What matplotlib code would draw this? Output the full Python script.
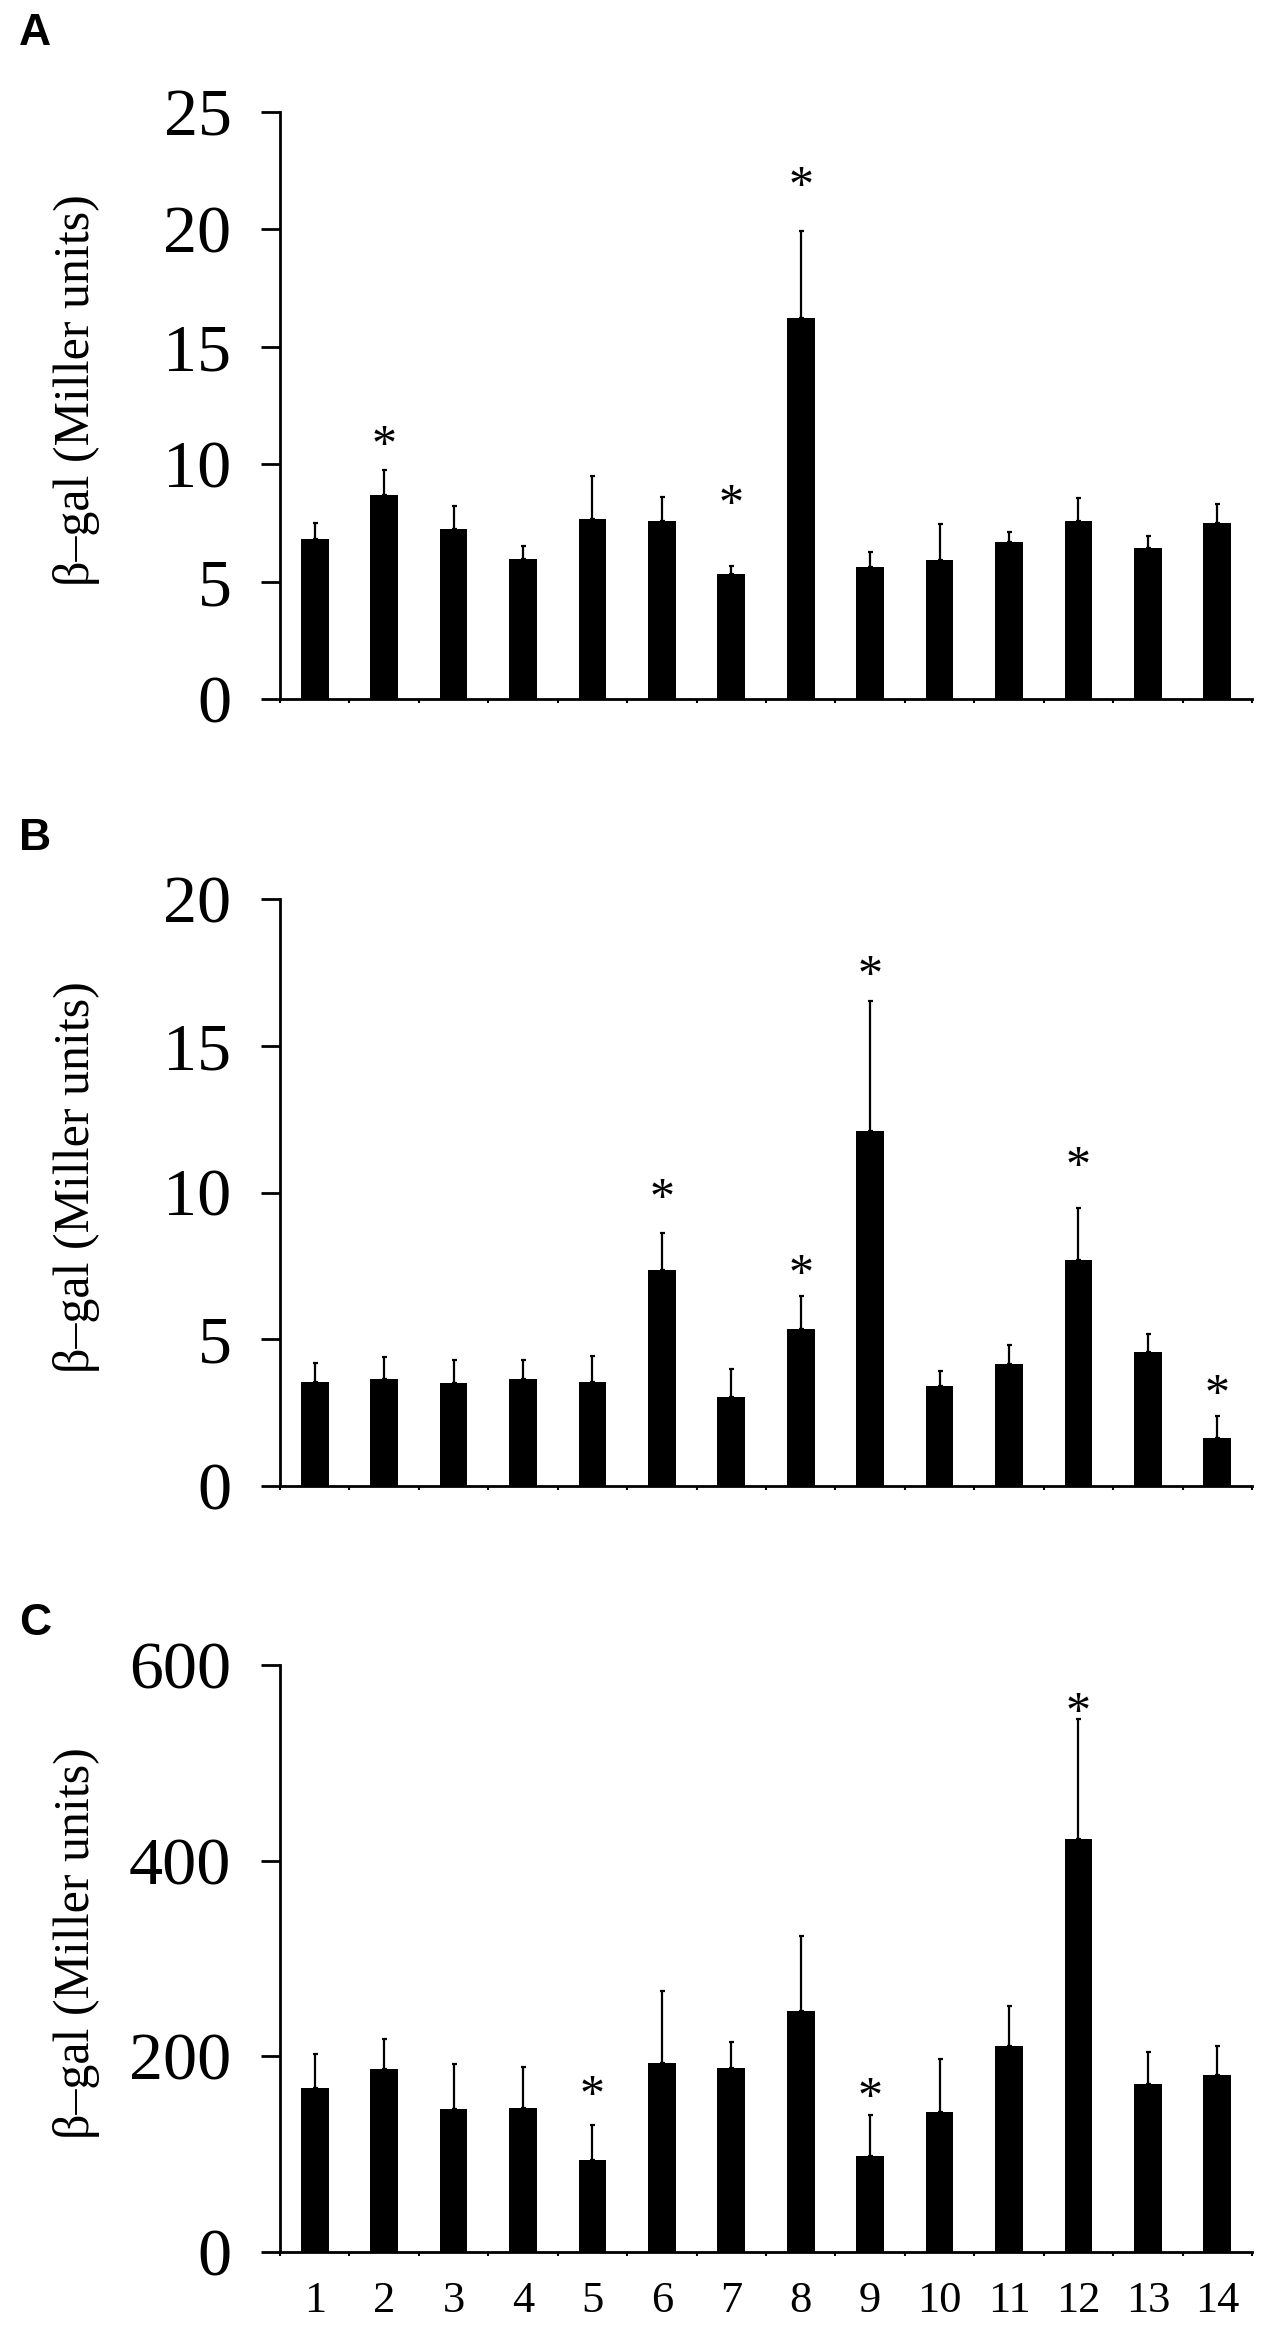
import numpy as np
import matplotlib
matplotlib.use("Agg")
from matplotlib import pyplot as plt
from matplotlib.transforms import offset_copy

plt.rcParams['font.family'] = ['Liberation Serif', 'DejaVu Serif']

strains = [str(i) for i in range(1, 15)]

# panel A
mean_a = [6.80, 8.69, 7.23, 5.96, 7.68, 7.58, 5.31, 16.21, 5.61, 5.92, 6.68, 7.56, 6.43, 7.48]
err_a = [0.68, 1.08, 0.97, 0.54, 1.83, 1.03, 0.35, 3.71, 0.64, 1.54, 0.45, 1.01, 0.50, 0.82]
star_pos_a = [2, 7, 8]
star_y_a = [11.23, 8.69, 22.27]

# panel B
mean_b = [3.56, 3.65, 3.50, 3.65, 3.53, 7.36, 3.04, 5.36, 12.11, 3.42, 4.16, 7.70, 4.58, 1.62]
err_b = [0.64, 0.74, 0.78, 0.63, 0.91, 1.27, 0.93, 1.12, 4.41, 0.50, 0.66, 1.76, 0.61, 0.78]
star_pos_b = [6, 8, 9, 12, 14]
star_y_b = [10.12, 7.53, 17.73, 11.22, 3.45]

# panel C
mean_c = [168, 187, 146, 147, 94, 193, 188, 246, 98, 143, 211, 422, 172, 181]
err_c = [34, 31, 46, 42, 36, 74, 27, 77, 42, 54, 40, 123, 32, 30]
star_pos_c = [5, 9, 12]
star_y_c = [170, 168, 562]

panels = [
    ("A", mean_a, err_a, star_pos_a, star_y_a, 25, 5),
    ("B", mean_b, err_b, star_pos_b, star_y_b, 20, 5),
    ("C", mean_c, err_c, star_pos_c, star_y_c, 600, 200),
]

W, H = 1267, 2332
fig = plt.figure(figsize=(W / 100, H / 100), dpi=100)

left = 280 / W
width = (1252 - 280) / W
bottoms = [699, 1486, 2252]   # pixel row of y=0 line
letter_base = [45, 850, 1635]
axh = 587 / H

star_fs = 36
x = np.arange(len(strains))

for k, (letter, mean, err, spos, sy, ymax, ystep) in enumerate(panels):
    ax = fig.add_axes([left, 1 - bottoms[k] / H, width, axh])
    ax.bar(x, mean, width=0.40, color="black", zorder=2)
    ax.errorbar(x, mean, yerr=[np.zeros(len(err)), err], fmt="none",
                ecolor="black", elinewidth=1.6, capsize=1.8, capthick=1.6, zorder=3)

    # star glyph sits high in the em box, shift baseline so its centre lands on the value
    tr = offset_copy(ax.transData, fig=fig, y=-0.47 * star_fs, units="points")
    for p, yy in zip(spos, sy):
        ax.text(p - 1, yy, "*", fontsize=star_fs, ha="center", va="baseline",
                transform=tr)

    ax.set_xlim(-0.5, len(strains) - 0.5)
    ax.set_ylim(0, ymax)
    ax.set_yticks(np.arange(0, ymax + 1, ystep))
    ax.tick_params(axis="y", labelsize=49, length=14, width=2, pad=21, direction="out")

    ax.set_xticks(x)
    ax.set_xticks(np.arange(-0.5, len(strains), 1.0), minor=True)
    ax.tick_params(axis="x", which="major", length=0, pad=21, labelsize=32)
    ax.tick_params(axis="x", which="minor", length=3, width=1.5, direction="out")
    if letter == "C":
        ax.set_xticklabels(strains)
    else:
        ax.set_xticklabels([])

    for s in ["top", "right"]:
        ax.spines[s].set_visible(False)
    ax.spines["left"].set_linewidth(2)
    ax.spines["bottom"].set_linewidth(2)

    ax.set_ylabel("β–gal (Miller units)", fontsize=36)
    ax.yaxis.set_label_coords(-0.185, 0.526)

    fig.text(35 / W, 1 - letter_base[k] / H, letter, fontsize=32, fontweight="bold",
             family="Liberation Sans", ha="center", va="baseline")

fig.savefig("out.png", dpi=100)
